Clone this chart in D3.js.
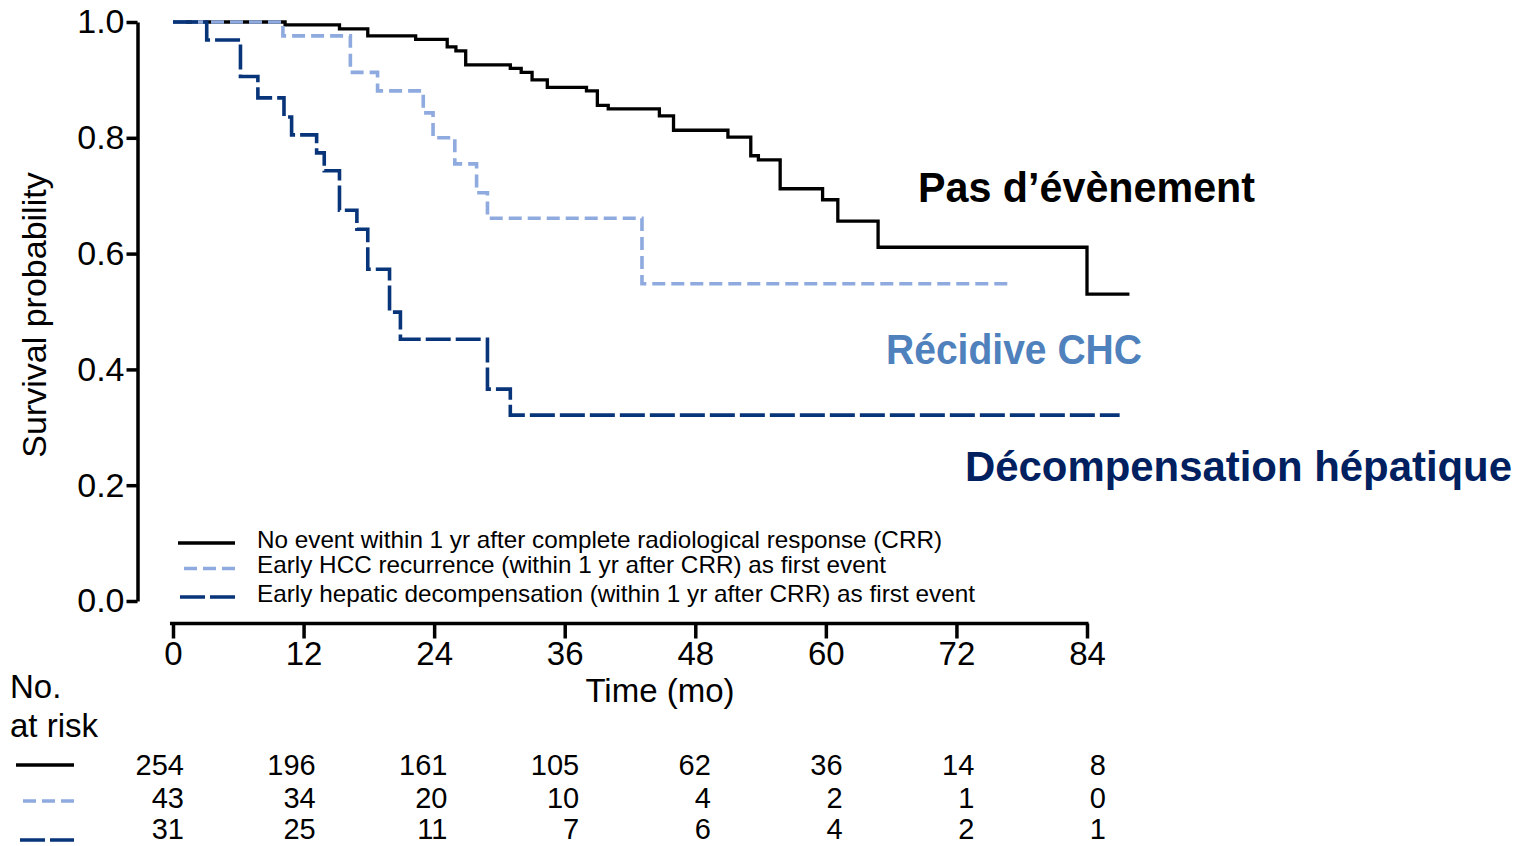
<!DOCTYPE html>
<html>
<head>
<meta charset="utf-8">
<script src="https://cdn.jsdelivr.net/npm/d3@7"></script>
<style>
body { margin: 0; background: #fff; }
svg text { font-family: "Liberation Sans", Arial, sans-serif; fill: #000; }
</style>
</head>
<body>
<div class="chart"></div>
<script>
// Kaplan-Meier steps (months, survival probability)
var noEventTime = [0, 10.3, 15.3, 17.9, 22.3, 25.2, 26.0, 26.9, 31.0, 32.0, 33.0, 34.4, 38.0, 39.0, 40.0, 44.7, 46.0, 51.0, 53.1, 53.8, 55.8, 59.7, 61.1, 64.8, 84.0, 87.9];
var noEventSurv = [1, 0.995, 0.988, 0.976, 0.970, 0.957, 0.950, 0.926, 0.920, 0.913, 0.900, 0.887, 0.881, 0.856, 0.850, 0.838, 0.813, 0.801, 0.769, 0.762, 0.712, 0.693, 0.656, 0.611, 0.530, 0.530];

var hccTime = [0, 10.1, 16.3, 18.8, 23.0, 23.9, 25.9, 27.9, 28.9, 43.1, 77.1];
var hccSurv = [1, 0.976, 0.913, 0.881, 0.843, 0.800, 0.755, 0.705, 0.661, 0.548, 0.548];

var decompTime = [0, 3.1, 6.2, 7.8, 10.2, 10.9, 13.2, 13.9, 15.3, 16.9, 17.9, 19.9, 20.9, 28.9, 31.0, 87.0];
var decompSurv = [1, 0.969, 0.906, 0.869, 0.836, 0.805, 0.774, 0.743, 0.675, 0.642, 0.573, 0.499, 0.452, 0.366, 0.321, 0.321];

var tickMonths = [0, 12, 24, 36, 48, 60, 72, 84];
var yTicks = [0, 0.2, 0.4, 0.6, 0.8, 1.0];

// number at risk
var riskNoEvent = [254, 196, 161, 105, 62, 36, 14, 8];
var riskHcc = [43, 34, 20, 10, 4, 2, 1, 0];
var riskDecomp = [31, 25, 11, 7, 6, 4, 2, 1];

var legendLabels = [
    "No event within 1 yr after complete radiological response (CRR)",
    "Early HCC recurrence (within 1 yr after CRR) as first event",
    "Early hepatic decompensation (within 1 yr after CRR) as first event"
];
var curveLabels = ["Pas d\u2019\u00e9v\u00e8nement", "R\u00e9cidive CHC", "D\u00e9compensation h\u00e9patique"];

var colors = ["#000000", "#8eaadf", "#08357a"];
var dashes = [null, "13,6", "25,5"];
var widths = [3.3, 3.6, 3.6];

var svg = d3.select(".chart").append("svg").attr("width", 1528).attr("height", 846);

var x = d3.scaleLinear().domain([0, 84]).range([173, 1087]);
var y = d3.scaleLinear().domain([0, 1]).range([601, 22]);
var xRisk = d3.scaleLinear().domain([0, 84]).range([184, 1106]);

// axes
var yAxis = svg.append("g")
    .attr("transform", "translate(137.5,0)")
    .call(d3.axisLeft(y).tickValues(yTicks).tickFormat(d3.format(".1f"))
        .tickSize(11).tickSizeOuter(0).tickPadding(2));
yAxis.selectAll("path, line").attr("stroke", "#000").attr("stroke-width", 3.5);
yAxis.selectAll("text").attr("font-size", 34).attr("font-family", "Liberation Sans, Arial, sans-serif");

var xAxis = svg.append("g")
    .attr("transform", "translate(0,623.5)")
    .call(d3.axisBottom(x).tickValues(tickMonths).tickSize(15).tickSizeOuter(0).tickPadding(3));
xAxis.selectAll("path, line").attr("stroke", "#000").attr("stroke-width", 3.5);
xAxis.select(".domain").attr("d", "M" + (x(0) - 3) + ",0H" + (x(84) + 1.5));
xAxis.selectAll("text").attr("font-size", 33).attr("font-family", "Liberation Sans, Arial, sans-serif");

svg.append("text")
    .attr("transform", "translate(46,315) rotate(-90)")
    .attr("text-anchor", "middle")
    .attr("font-size", 34)
    .text("Survival probability");

svg.append("text")
    .attr("x", 660).attr("y", 702)
    .attr("text-anchor", "middle")
    .attr("font-size", 33)
    .text("Time (mo)");

// curves
var series = [
    { time: noEventTime, surv: noEventSurv },
    { time: hccTime, surv: hccSurv },
    { time: decompTime, surv: decompSurv }
];

var line = d3.line()
    .x(function(d) { return x(d[0]); })
    .y(function(d) { return y(d[1]); })
    .curve(d3.curveStepAfter);

series.forEach(function(s, i) {
    svg.append("path")
        .datum(d3.zip(s.time, s.surv))
        .attr("d", line)
        .attr("fill", "none")
        .attr("stroke", colors[i])
        .attr("stroke-width", widths[i])
        .attr("stroke-dasharray", dashes[i]);
});

// legend inside the plot
var legendY = [543, 568.5, 597];
var legendStart = [178, 184, 180];
var legendLen = [685, 629, 718];
legendLabels.forEach(function(lab, i) {
    svg.append("line")
        .attr("x1", legendStart[i]).attr("x2", 235)
        .attr("y1", legendY[i]).attr("y2", legendY[i])
        .attr("stroke", colors[i])
        .attr("stroke-width", widths[i])
        .attr("stroke-dasharray", dashes[i]);
    svg.append("text")
        .attr("x", 257).attr("y", legendY[i] + 4.5)
        .attr("font-size", 24)
        .attr("textLength", legendLen[i])
        .attr("lengthAdjust", "spacingAndGlyphs")
        .text(lab);
});

// curve labels (French)
var labelX = [918, 886, 965];
var labelY = [202, 364, 481];
var labelLen = [337, 256, 547];
var labelColor = ["#000000", "#4f81bd", "#002060"];
curveLabels.forEach(function(lab, i) {
    svg.append("text")
        .attr("x", labelX[i]).attr("y", labelY[i])
        .attr("font-family", "Lato, 'Open Sans', sans-serif")
        .attr("font-weight", "bold")
        .attr("font-size", 43)
        .attr("textLength", labelLen[i])
        .attr("lengthAdjust", "spacingAndGlyphs")
        .style("fill", labelColor[i])
        .text(lab);
});

// number at risk table
svg.append("text").attr("x", 10).attr("y", 698).attr("font-size", 33).text("No.");
svg.append("text").attr("x", 10).attr("y", 737).attr("font-size", 33).text("at risk");

var riskRows = [riskNoEvent, riskHcc, riskDecomp];
var riskY = [775, 808, 839];
var riskLineY = [765, 801, 840];
var riskLineStart = [16, 23, 20];
riskRows.forEach(function(row, r) {
    svg.append("line")
        .attr("x1", riskLineStart[r]).attr("x2", 74)
        .attr("y1", riskLineY[r]).attr("y2", riskLineY[r])
        .attr("stroke", colors[r])
        .attr("stroke-width", 3.6)
        .attr("stroke-dasharray", dashes[r]);
    row.forEach(function(v, i) {
        svg.append("text")
            .attr("x", xRisk(tickMonths[i]))
            .attr("y", riskY[r])
            .attr("text-anchor", "end")
            .attr("font-size", 29)
            .text(v);
    });
});
</script>
</body>
</html>
